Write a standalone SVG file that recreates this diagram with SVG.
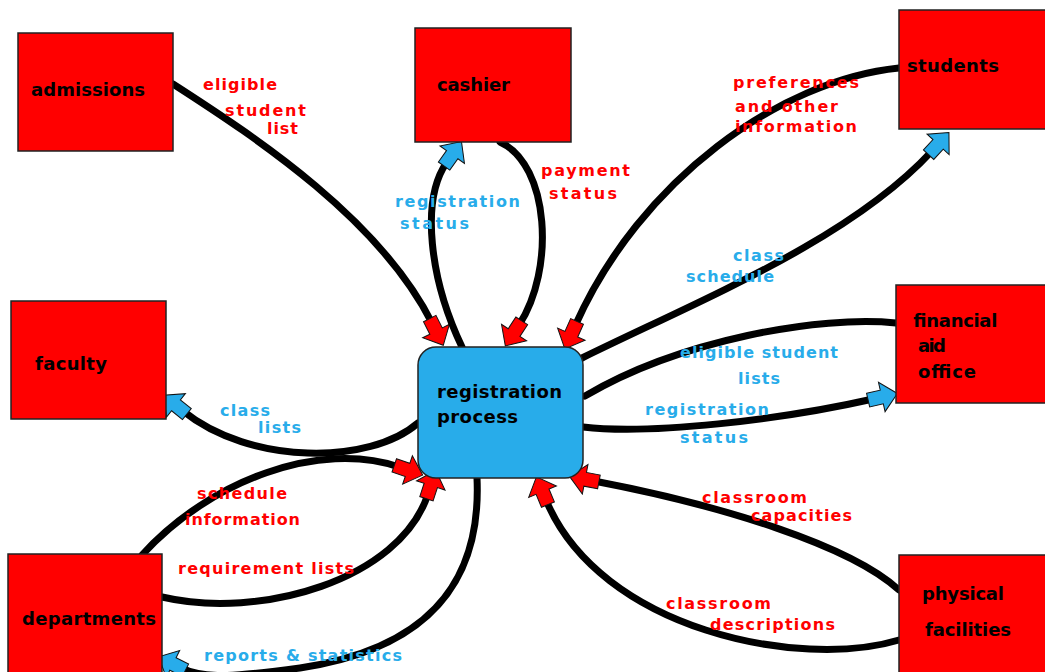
<svg xmlns="http://www.w3.org/2000/svg" width="1045" height="672" viewBox="0 0 1045 672">
<style>
.box{fill:#ff0000;stroke:#222;stroke-width:1.5}
.proc{fill:#28acea;stroke:#222;stroke-width:1.5}
.nt{font-family:"DejaVu Sans","Liberation Sans",sans-serif;font-weight:bold;font-size:18px;fill:#000}
.lr{font-family:"DejaVu Sans","Liberation Sans",sans-serif;font-weight:bold;font-size:16px;fill:#ff0000}
.lb{font-family:"DejaVu Sans","Liberation Sans",sans-serif;font-weight:bold;font-size:16px;fill:#28acea}
.c{fill:none;stroke:#000;stroke-width:7;stroke-linecap:round}
.cr{marker-end:url(#mr)}
.cb{marker-end:url(#mb)}
</style>
<defs>
<marker id="mr" viewBox="-2 -18 36 36" markerWidth="36" markerHeight="36" refX="5" refY="0" orient="auto" markerUnits="userSpaceOnUse">
<path d="M0,-7 H14 V-15 L30,0 L14,15 V7 H0 Z" fill="#ff0000" stroke="#111" stroke-width="1"/>
</marker>
<marker id="mb" viewBox="-2 -18 36 36" markerWidth="36" markerHeight="36" refX="5" refY="0" orient="auto" markerUnits="userSpaceOnUse">
<path d="M0,-7 H14 V-15 L30,0 L14,15 V7 H0 Z" fill="#28acea" stroke="#111" stroke-width="1"/>
</marker>
</defs>
<rect width="1045" height="672" fill="#fff"/>

<g id="connectors">
<path class="c cr" d="M173,84 C260,140 380,220 432,323"/>
<path class="c cb" d="M462,347 C430,280 420,200 447,162"/>
<path class="c cr" d="M500,142 C550,165 555,270 519,325"/>
<path class="c cr" d="M899,68 C780,80 640,180 575,326"/>
<path class="c cb" d="M582,358 C700,300 850,240 932,151"/>
<path class="c" d="M896,323 C820,315 680,340 585,396"/>
<path class="c cb" d="M583,427 C650,435 780,420 873,399"/>
<path class="c cb" d="M418,423 C370,465 250,465 183,411"/>
<path class="c cr" d="M142,555 C210,480 320,440 399,467"/>
<path class="c cr" d="M162,597 C260,620 400,580 428,494"/>
<path class="c cb" d="M477,478 C482,590 420,650 300,668 C240,676 205,680 181,668"/>
<path class="c cr" d="M899,590 C850,545 720,505 594,481"/>
<path class="c cr" d="M899,640 C800,670 600,630 546,500"/>
</g>

<g id="admissions"><rect class="box" x="18" y="33" width="155" height="118"/><text class="nt" x="31" y="96" textLength="114">admissions</text></g>
<g id="cashier"><rect class="box" x="415" y="28" width="156" height="114"/><text class="nt" x="437" y="91" textLength="73">cashier</text></g>
<g id="students"><rect class="box" x="899" y="10" width="150" height="119"/><text class="nt" x="907" y="72" textLength="92">students</text></g>
<g id="faculty"><rect class="box" x="11" y="301" width="155" height="118"/><text class="nt" x="35" y="370" textLength="72">faculty</text></g>
<g id="financial-aid-office"><rect class="box" x="896" y="285" width="153" height="118"/>
<text class="nt" x="913" y="327" textLength="84">financial</text>
<text class="nt" x="918" y="352" textLength="28">aid</text>
<text class="nt" x="918" y="378" textLength="58">office</text></g>
<g id="departments"><rect class="box" x="8" y="554" width="154" height="125"/><text class="nt" x="22" y="625" textLength="134">departments</text></g>
<g id="physical-facilities"><rect class="box" x="899" y="555" width="150" height="124"/>
<text class="nt" x="922" y="600" textLength="82">physical</text>
<text class="nt" x="925" y="636" textLength="86">facilities</text></g>
<g id="registration-process"><rect class="proc" x="418" y="347" width="165" height="131" rx="18"/>
<text class="nt" x="437" y="398" textLength="125">registration</text>
<text class="nt" x="437" y="423" textLength="81">process</text></g>

<g id="labels">
<text class="lr" x="203" y="90" textLength="74">eligible</text>
<text class="lr" x="225" y="116" textLength="81">student</text>
<text class="lr" x="267" y="134" textLength="31">list</text>
<text class="lr" x="541" y="176" textLength="89">payment</text>
<text class="lr" x="549" y="199" textLength="68">status</text>
<text class="lb" x="395" y="207" textLength="125">registration</text>
<text class="lb" x="400" y="229" textLength="69">status</text>
<text class="lr" x="733" y="88" textLength="126">preferences</text>
<text class="lr" x="735" y="112" textLength="103">and other</text>
<text class="lr" x="735" y="132" textLength="122">information</text>
<text class="lb" x="733" y="261" textLength="51">class</text>
<text class="lb" x="686" y="282" textLength="88">schedule</text>
<text class="lb" x="680" y="358" textLength="158">eligible student</text>
<text class="lb" x="738" y="384" textLength="42">lists</text>
<text class="lb" x="645" y="415" textLength="124">registration</text>
<text class="lb" x="680" y="443" textLength="68">status</text>
<text class="lb" x="220" y="416" textLength="50">class</text>
<text class="lb" x="258" y="433" textLength="43">lists</text>
<text class="lr" x="197" y="499" textLength="90">schedule</text>
<text class="lr" x="185" y="525" textLength="115">information</text>
<text class="lr" x="178" y="574" textLength="176">requirement lists</text>
<text class="lb" x="204" y="661" textLength="198">reports &amp; statistics</text>
<text class="lr" x="702" y="503" textLength="105">classroom</text>
<text class="lr" x="751" y="521" textLength="101">capacities</text>
<text class="lr" x="666" y="609" textLength="105">classroom</text>
<text class="lr" x="710" y="630" textLength="125">descriptions</text>
</g>
</svg>
